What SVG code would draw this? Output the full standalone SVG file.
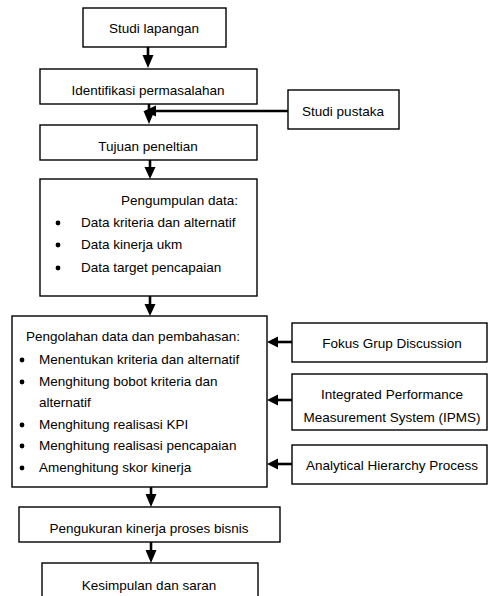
<svg xmlns="http://www.w3.org/2000/svg" width="488" height="596" viewBox="0 0 488 596">
<style>
.box{fill:#fff;stroke:#000;stroke-width:1.4}
text{font-family:"Liberation Sans",Arial,sans-serif;font-size:13.5px;fill:#000}
.c{text-anchor:middle}
.ln{stroke:#000;stroke-width:2.6;fill:none}
.hd{fill:#000}
</style>
<rect width="488" height="596" fill="#fff"/>
<g id="studi-lapangan"><rect class="box" x="83" y="8" width="143" height="39"/><text class="c" x="154" y="33">Studi lapangan</text></g>
<g id="identifikasi"><rect class="box" x="40" y="69" width="217" height="35"/><text class="c" x="148" y="95">Identifikasi permasalahan</text></g>
<g id="studi-pustaka"><rect class="box" x="288" y="90" width="111" height="39"/><text class="c" x="343" y="116">Studi pustaka</text></g>
<g id="tujuan"><rect class="box" x="40" y="125" width="217" height="35"/><text class="c" x="148" y="151">Tujuan peneltian</text></g>
<g id="pengumpulan"><rect class="box" x="40" y="179" width="217" height="117"/>
<text x="121" y="205">Pengumpulan data:</text>
<circle cx="58" cy="223" r="2.4"/><text x="81" y="227">Data kriteria dan alternatif</text>
<circle cx="58" cy="245" r="2.4"/><text x="81" y="249">Data kinerja ukm</text>
<circle cx="58" cy="268" r="2.4"/><text x="81" y="272">Data target pencapaian</text>
</g>
<g id="pengolahan"><rect class="box" x="12" y="316" width="255" height="171"/>
<text x="26" y="341">Pengolahan data dan pembahasan:</text>
<circle cx="22" cy="360" r="2.4"/><text x="39" y="364">Menentukan kriteria dan alternatif</text>
<circle cx="22" cy="382" r="2.4"/><text x="39" y="386">Menghitung bobot kriteria dan</text>
<text x="39" y="407">alternatif</text>
<circle cx="22" cy="425" r="2.4"/><text x="39" y="429">Menghitung realisasi KPI</text>
<circle cx="22" cy="446" r="2.4"/><text x="39" y="450">Menghitung realisasi pencapaian</text>
<circle cx="22" cy="468" r="2.4"/><text x="39" y="472">Amenghitung skor kinerja</text>
</g>
<g id="fokus"><rect class="box" x="292" y="323" width="195" height="39"/><text class="c" x="392" y="348">Fokus Grup Discussion</text></g>
<g id="ipms"><rect class="box" x="292" y="374" width="195" height="56"/><text class="c" x="392" y="399">Integrated Performance</text><text class="c" x="392" y="422">Measurement System (IPMS)</text></g>
<g id="ahp"><rect class="box" x="292" y="445" width="195" height="39"/><text class="c" x="392" y="470">Analytical Hierarchy Process</text></g>
<g id="pengukuran"><rect class="box" x="19" y="507" width="261" height="35"/><text class="c" x="149" y="533">Pengukuran kinerja proses bisnis</text></g>
<g id="kesimpulan"><rect class="box" x="42" y="563" width="216" height="40"/><text class="c" x="149" y="590">Kesimpulan dan saran</text></g>
<g id="connectors">
<path class="ln" d="M148 47V56"/><polygon class="hd" points="142.5,55 153.5,55 148,68"/>
<path class="ln" d="M149 104V112"/><polygon class="hd" points="143.5,111 154.5,111 149,124"/>
<path class="ln" d="M288 111H155"/><polygon class="hd" points="156,105.5 156,116.5 144,111"/>
<path class="ln" d="M150 160V168"/><polygon class="hd" points="144.5,167 155.5,167 150,179"/>
<path class="ln" d="M150 296V305"/><polygon class="hd" points="144.5,304 155.5,304 150,316"/>
<path class="ln" d="M292 342H277"/><polygon class="hd" points="278,336.5 278,347.5 267,342"/>
<path class="ln" d="M292 400H277"/><polygon class="hd" points="278,394.5 278,405.5 267,400"/>
<path class="ln" d="M292 464H277"/><polygon class="hd" points="278,458.5 278,469.5 267,464"/>
<path class="ln" d="M151 487V495"/><polygon class="hd" points="145.5,494 156.5,494 151,507"/>
<path class="ln" d="M151 542V551"/><polygon class="hd" points="145.5,550 156.5,550 151,563"/>
</g>
</svg>
